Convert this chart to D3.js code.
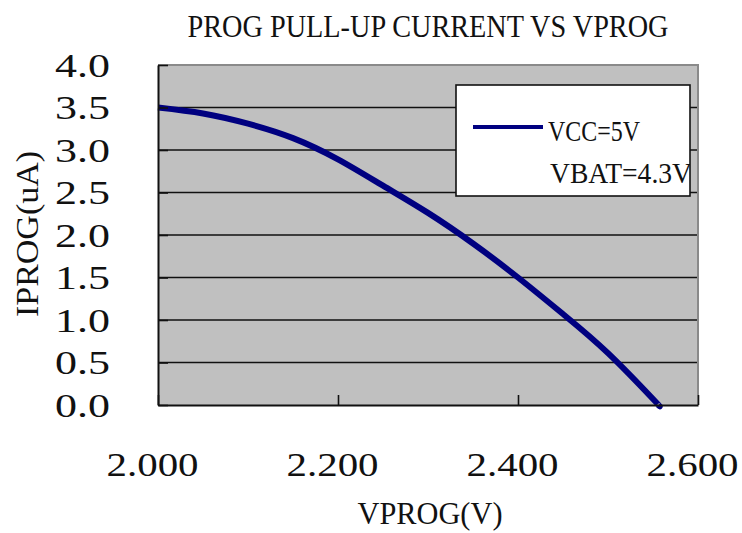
<!DOCTYPE html>
<html>
<head>
<meta charset="utf-8">
<script src="https://cdn.jsdelivr.net/npm/d3@7"></script>
<style>
  html, body { margin: 0; padding: 0; background: #fff; }
  svg { display: block; }
  text { font-family: "Liberation Serif", "Times New Roman", serif; fill: #111; }
</style>
</head>
<body>
<svg id="chart" width="742" height="533"></svg>
<script>
// ---- data ----
const vprog = [2.000, 2.050, 2.100, 2.150, 2.200, 2.250, 2.300, 2.350, 2.400, 2.450, 2.500, 2.550, 2.556];
const iprog = [3.50, 3.43, 3.31, 3.14, 2.89, 2.58, 2.26, 1.90, 1.50, 1.07, 0.61, 0.07, 0.00];
const xTicks = [2.0, 2.2, 2.4, 2.6];
const yTicks = [0, 0.5, 1.0, 1.5, 2.0, 2.5, 3.0, 3.5, 4.0];
const titleText = "PROG PULL-UP CURRENT VS VPROG";
const xLabel = "VPROG(V)";
const yLabel = "IPROG(uA)";
const legendLines = ["VCC=5V", "VBAT=4.3V"];

// ---- layout ----
const svg = d3.select("#chart");
const L = 158, R = 698, T = 65, B = 405;
const x = d3.scaleLinear().domain([2.0, 2.6]).range([L, R]);
const y = d3.scaleLinear().domain([0, 4.0]).range([B, T]);

// plot background
svg.append("rect").attr("x", L).attr("y", T).attr("width", R - L).attr("height", B - T)
  .attr("fill", "#c0c0c0");

// gridlines
svg.append("g").selectAll("line").data(yTicks.filter(d => d > 0 && d < 4))
  .join("line")
  .attr("x1", L).attr("x2", R)
  .attr("y1", d => y(d)).attr("y2", d => y(d))
  .attr("stroke", "#111").attr("stroke-width", 1.6);

// top & right border (grey)
svg.append("path")
  .attr("d", `M${L},${T}H${R}V${B}`)
  .attr("fill", "none").attr("stroke", "#8a8a8a").attr("stroke-width", 2);

// curve
const line = d3.line().x((d, i) => x(vprog[i])).y(d => y(d)).curve(d3.curveNatural);
svg.append("path").datum(iprog)
  .attr("d", line)
  .attr("fill", "none").attr("stroke", "#000080").attr("stroke-width", 6)
  .attr("stroke-linecap", "butt");

// y axis
const yAxis = svg.append("g").attr("transform", `translate(${L},0)`)
  .call(d3.axisLeft(y).tickValues(yTicks).tickFormat(d3.format(".1f"))
        .tickSize(-10).tickSizeOuter(0).tickPadding(48));
yAxis.select(".domain").attr("stroke", "#111").attr("stroke-width", 2);
yAxis.selectAll(".tick line").attr("stroke", "#111").attr("stroke-width", 1.6);
yAxis.selectAll(".tick text")
  .attr("font-size", 33).attr("font-family", "Liberation Serif")
  .attr("fill", "#111")
  .attr("x", -48).attr("dy", null).attr("y", 11)
  .attr("textLength", 55).attr("lengthAdjust", "spacingAndGlyphs");

// x axis
const xAxis = svg.append("g").attr("transform", `translate(0,${B})`)
  .call(d3.axisBottom(x).tickValues(xTicks).tickFormat(d3.format(".3f"))
        .tickSize(-10).tickSizeOuter(0));
xAxis.select(".domain").attr("stroke", "#111").attr("stroke-width", 2);
xAxis.selectAll(".tick line").attr("stroke", "#111").attr("stroke-width", 1.6);
xAxis.selectAll(".tick text")
  .attr("font-size", 33).attr("font-family", "Liberation Serif")
  .attr("fill", "#111")
  .attr("dy", null).attr("y", 71).attr("x", -6)
  .attr("textLength", 92).attr("lengthAdjust", "spacingAndGlyphs");

// title
svg.append("text").attr("x", 428).attr("y", 37)
  .attr("text-anchor", "middle").attr("font-size", 32)
  .attr("textLength", 481).attr("lengthAdjust", "spacingAndGlyphs")
  .text(titleText);

// axis titles
svg.append("text").attr("x", 430).attr("y", 524)
  .attr("text-anchor", "middle").attr("font-size", 32)
  .attr("textLength", 145).attr("lengthAdjust", "spacingAndGlyphs")
  .text(xLabel);
svg.append("text").attr("transform", "translate(38,234) rotate(-90)")
  .attr("text-anchor", "middle").attr("font-size", 31)
  .attr("textLength", 166).attr("lengthAdjust", "spacingAndGlyphs")
  .text(yLabel);

// legend
const lg = { x: 456, y: 85, w: 234, h: 111 };
svg.append("defs").append("clipPath").attr("id", "lgclip")
  .append("rect").attr("x", lg.x).attr("y", lg.y).attr("width", lg.w).attr("height", lg.h);
svg.append("rect").attr("x", lg.x).attr("y", lg.y).attr("width", lg.w).attr("height", lg.h)
  .attr("fill", "#fff").attr("stroke", "#111").attr("stroke-width", 1.6);
const lgG = svg.append("g").attr("clip-path", "url(#lgclip)");
lgG.append("line").attr("x1", 473).attr("x2", 543).attr("y1", 127).attr("y2", 127)
  .attr("stroke", "#000080").attr("stroke-width", 4);
lgG.append("text").attr("x", 548).attr("y", 141).attr("font-size", 30)
  .attr("textLength", 92).attr("lengthAdjust", "spacingAndGlyphs")
  .text(legendLines[0]);
lgG.append("text").attr("x", 550).attr("y", 183).attr("font-size", 30)
  .attr("textLength", 142).attr("lengthAdjust", "spacingAndGlyphs")
  .text(legendLines[1]);
</script>
</body>
</html>
